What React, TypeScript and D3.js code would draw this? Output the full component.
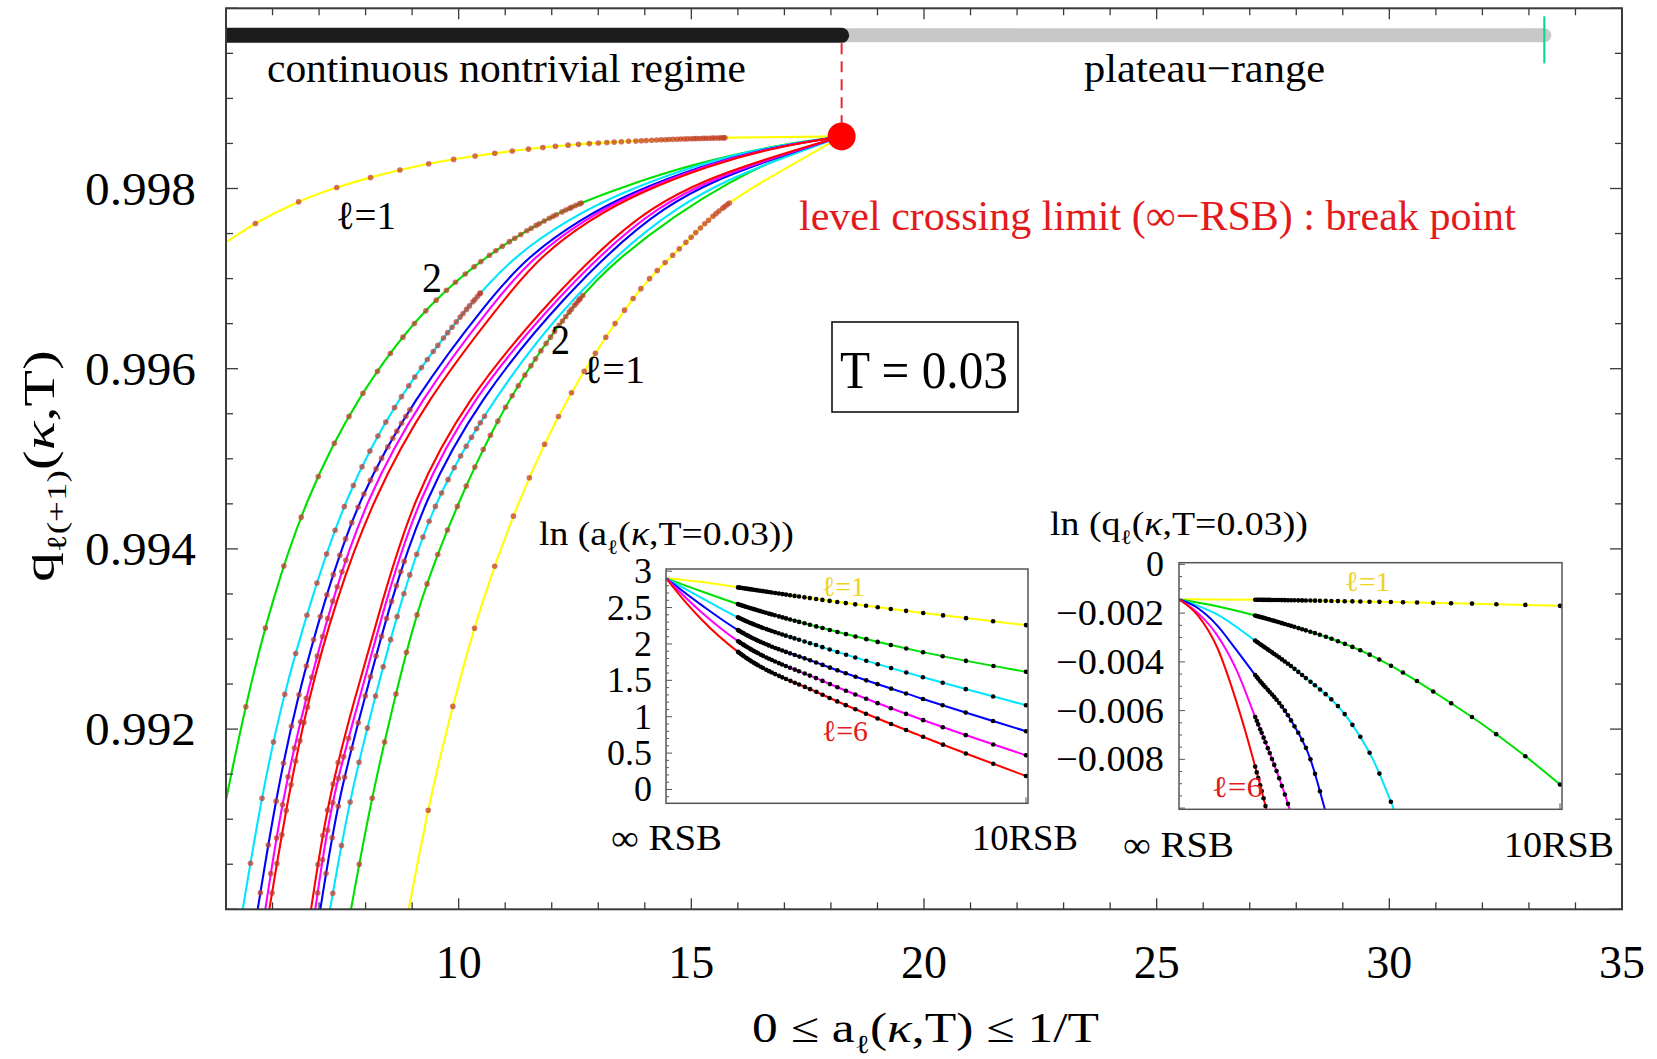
import React, { useEffect, useRef } from "react";
import * as d3 from "d3";

const W = 1657;
const H = 1059;
const SERIF = "'Liberation Serif','Times New Roman',Times,serif";

// ---------------- main panel ----------------
const A_DOMAIN: [number, number] = [5, 35];
const Q_DOMAIN: [number, number] = [0.99, 1.0];
const A_TICK_LABELS = [10, 15, 20, 25, 30, 35];
const Q_TICK_LABELS = [0.992, 0.994, 0.996, 0.998];

const BREAK_POINT: [number, number] = [18.23, 0.998578];
const INVERSE_T = 33.33;
const REGIME_BAR_Q = 0.9997;

const YELLOW = "#ffff00";
const GREEN = "#00e000";
const CYAN = "#00e6ff";
const BLUE = "#0000ff";
const MAGENTA = "#ff00ff";
const RED = "#ff0000";

// left (upper) family: [a, q]
const Q_YELLOW_A: [number, number][] = [[5.0, 0.997403], [5.632, 0.997622], [6.558, 0.997862], [7.396, 0.998018], [8.138, 0.998129], [8.74, 0.998207], [9.354, 0.998278], [10.35, 0.998362], [11.16, 0.998418], [12.42, 0.998492], [14.26, 0.99854], [15.72, 0.998567], [18.23, 0.998578]];
const Q_GREEN_A: [number, number][] = [[5.0, 0.991214], [5.443, 0.992326], [5.991, 0.993437], [6.711, 0.994548], [7.772, 0.995659], [9.367, 0.99677], [11.2, 0.99748], [12.58, 0.99784], [13.5, 0.99801], [14.65, 0.99821], [15.8, 0.99836], [16.95, 0.99849], [18.23, 0.998578]];
const Q_CYAN_A: [number, number][] = [[5.359, 0.99], [5.752, 0.991214], [6.204, 0.992326], [6.827, 0.993437], [7.542, 0.994548], [8.637, 0.995659], [10.31, 0.99677], [11.2, 0.997251], [12.35, 0.997659], [13.5, 0.997956], [15.03, 0.998251], [16.57, 0.998456], [18.23, 0.998578]];
const Q_BLUE_A: [number, number][] = [[5.681, 0.99], [6.064, 0.991214], [6.517, 0.992326], [7.119, 0.993437], [7.83, 0.994548], [9.025, 0.995659], [10.65, 0.99677], [11.5, 0.997251], [12.61, 0.997659], [13.71, 0.997956], [15.21, 0.998251], [16.68, 0.998456], [18.23, 0.998578]];
const Q_MAGENTA_A: [number, number][] = [[5.845, 0.99], [6.204, 0.991214], [6.708, 0.992326], [7.278, 0.993437], [8.009, 0.994548], [9.169, 0.995659], [10.8, 0.99677], [11.63, 0.997251], [12.71, 0.997659], [13.8, 0.997956], [15.27, 0.998251], [16.72, 0.998456], [18.23, 0.998578]];
const Q_RED_A: [number, number][] = [[5.931, 0.99], [6.322, 0.991214], [6.762, 0.992326], [7.364, 0.993437], [8.153, 0.994548], [9.309, 0.995659], [10.97, 0.99677], [11.76, 0.997251], [12.82, 0.997659], [13.89, 0.997956], [15.34, 0.998251], [16.76, 0.998456], [18.23, 0.998578]];

// right (lower) family: [a, q]
const Q_RED_B: [number, number][] = [[6.827, 0.99], [7.186, 0.991214], [7.757, 0.992326], [8.368, 0.993437], [9.013, 0.994548], [10.16, 0.995659], [11.96, 0.99677], [14.11, 0.997881], [16.56, 0.998326], [18.23, 0.998578]];
const Q_MAGENTA_B: [number, number][] = [[6.919, 0.99], [7.257, 0.991214], [7.865, 0.992326], [8.439, 0.993437], [9.12, 0.994548], [10.27, 0.995659], [12.07, 0.99677], [14.26, 0.997881], [16.65, 0.998326], [18.23, 0.998578]];
const Q_BLUE_B: [number, number][] = [[7.027, 0.99], [7.401, 0.991214], [7.972, 0.992326], [8.546, 0.993437], [9.262, 0.994548], [10.44, 0.995659], [12.19, 0.99677], [14.41, 0.997881], [16.71, 0.998326], [18.23, 0.998578]];
const Q_CYAN_B: [number, number][] = [[7.235, 0.99], [7.65, 0.991214], [8.187, 0.992326], [8.761, 0.993437], [9.477, 0.994548], [10.73, 0.995659], [12.35, 0.99677], [14.73, 0.997881], [16.88, 0.998326], [18.23, 0.998578]];
const Q_GREEN_B: [number, number][] = [[7.686, 0.99], [8.116, 0.991214], [8.617, 0.992326], [9.154, 0.993437], [10.01, 0.994548], [11.02, 0.995659], [12.58, 0.99681], [13.5, 0.997251], [14.65, 0.9977], [15.8, 0.99807], [16.95, 0.99836], [18.23, 0.998578]];
const Q_YELLOW_B: [number, number][] = [[8.927, 0.99], [9.373, 0.991214], [9.9, 0.992326], [10.5, 0.993437], [11.29, 0.994548], [12.27, 0.995659], [13.69, 0.99677], [14.27, 0.9971], [15.03, 0.99747], [15.72, 0.997844], [17.38, 0.998326], [18.23, 0.998578]];

// RSB-level markers on the main curves (q values, or a values for the flat curve)
const MARK_A_YELLOW_A = [5.632, 6.558, 7.375, 8.106, 8.74, 9.354, 9.891, 10.351, 10.773, 11.157, 11.503, 11.811, 12.079, 12.348, 12.578, 12.808, 12.999, 13.19, 13.345, 13.498, 13.652, 13.805, 13.919, 14.035, 14.151, 14.252, 14.349, 14.435, 14.521, 14.607, 14.693, 14.768, 14.843, 14.918, 14.994, 15.058, 15.122, 15.187, 15.251, 15.316, 15.38, 15.445, 15.509, 15.574, 15.638, 15.692, 15.724];
const MARK_Q_GREEN_A = [0.99225, 0.99312, 0.99381, 0.99435, 0.9948, 0.99517, 0.99547, 0.99573, 0.99597, 0.99617, 0.99635, 0.9965, 0.99664, 0.99676, 0.99687, 0.99696, 0.99705, 0.99713, 0.99719, 0.99726, 0.99731, 0.99736, 0.99741, 0.99745, 0.99749, 0.99753, 0.99756, 0.99759, 0.99761, 0.99764, 0.99767, 0.99769, 0.99771, 0.99774, 0.99776, 0.99778, 0.99779, 0.99781, 0.99783, 0.99784];
const MARK_Q_CYAN_A = [0.99051, 0.99123, 0.99186, 0.99239, 0.99284, 0.99326, 0.99362, 0.99394, 0.99421, 0.99447, 0.9947, 0.99491, 0.99509, 0.99525, 0.99541, 0.99557, 0.99569, 0.99581, 0.99591, 0.99601, 0.9961, 0.99619, 0.99626, 0.99634, 0.9964, 0.99646, 0.99652, 0.99657, 0.99661, 0.99666, 0.9967, 0.99674, 0.99677, 0.9968, 0.99683, 0.99684];
const MARK_Q_BLUE_A = [0.99018, 0.99071, 0.9912, 0.99162, 0.99203, 0.99238, 0.9927, 0.99299, 0.99325, 0.99349, 0.99371, 0.99393, 0.99411, 0.99429, 0.99446, 0.99461, 0.99476, 0.99489, 0.99501, 0.99513, 0.99523, 0.99531, 0.99539, 0.99547, 0.99554];
const MARK_Q_MAGENTA_A = [0.9904, 0.99079, 0.99116, 0.99147, 0.99179, 0.99208, 0.99234, 0.99258, 0.99281, 0.99303, 0.99323, 0.99342, 0.99358, 0.99375, 0.99387];
const MARK_Q_RED_A = [0.99018, 0.99051, 0.99083, 0.9911, 0.99138, 0.99164, 0.99187, 0.99207, 0.99224];
const MARK_Q_RED_B = [0.9905, 0.99082, 0.9911, 0.99139, 0.99163];
const MARK_Q_MAGENTA_B = [0.99018, 0.99055, 0.99088, 0.99118, 0.99145, 0.99169, 0.9919];
const MARK_Q_BLUE_B = [0.9904, 0.99079, 0.99114, 0.99147, 0.99179, 0.99207, 0.99237, 0.99258, 0.99281, 0.99303, 0.99323, 0.99342, 0.99359, 0.99375, 0.99386];
const MARK_Q_CYAN_B = [0.99018, 0.99071, 0.99119, 0.99163, 0.99201, 0.99237, 0.99269, 0.99299, 0.99325, 0.9935, 0.99371, 0.99394, 0.99413, 0.99431, 0.99447, 0.99462, 0.99477, 0.9949, 0.99503, 0.99514, 0.99524, 0.99533, 0.9954, 0.99547];
const MARK_Q_GREEN_B = [0.9905, 0.99123, 0.99186, 0.99239, 0.99285, 0.99327, 0.99361, 0.99394, 0.99421, 0.99447, 0.9947, 0.99491, 0.9951, 0.99526, 0.99542, 0.99557, 0.9957, 0.99581, 0.99593, 0.99603, 0.99611, 0.9962, 0.99628, 0.99635, 0.99641, 0.99648, 0.99653, 0.99658, 0.99663, 0.99666, 0.9967, 0.99673, 0.99676, 0.99678, 0.99681];
const MARK_Q_YELLOW_B = [0.9911, 0.99225, 0.99312, 0.99381, 0.99436, 0.99479, 0.99516, 0.99547, 0.99573, 0.99597, 0.99617, 0.99635, 0.9965, 0.99665, 0.99678, 0.99689, 0.997, 0.99709, 0.99718, 0.99726, 0.99733, 0.9974, 0.99746, 0.99751, 0.99756, 0.99761, 0.99765, 0.99769, 0.99772, 0.99775, 0.99778, 0.9978, 0.99782, 0.99784];

// ---------------- insets ----------------
// horizontal position of K-RSB levels: K = 10 ... 50  (10RSB at 1, infinite RSB at 0)
const RSB_LEVEL_POS = [1.0, 0.909, 0.833, 0.769, 0.714, 0.667, 0.625, 0.588, 0.556, 0.526, 0.5, 0.476, 0.455, 0.435, 0.417, 0.4, 0.385, 0.37, 0.357, 0.345, 0.333, 0.323, 0.313, 0.303, 0.294, 0.286, 0.278, 0.27, 0.263, 0.256, 0.25, 0.244, 0.238, 0.233, 0.227, 0.222, 0.217, 0.213, 0.208, 0.204, 0.2];

const LN_A_TICKS = [0, 0.5, 1, 1.5, 2, 2.5, 3];
const LN_A_YELLOW: [number, number][] = [[0, 2.903], [0.1, 2.85], [0.2, 2.777], [0.432, 2.607], [0.71, 2.428], [1, 2.259]];
const LN_A_GREEN: [number, number][] = [[0, 2.903], [0.1, 2.72], [0.2, 2.547], [0.432, 2.222], [0.71, 1.891], [1, 1.617]];
const LN_A_CYAN: [number, number][] = [[0, 2.903], [0.1, 2.63], [0.2, 2.365], [0.432, 1.96], [0.71, 1.548], [1, 1.158]];
const LN_A_BLUE: [number, number][] = [[0, 2.903], [0.1, 2.53], [0.2, 2.19], [0.432, 1.718], [0.71, 1.25], [1, 0.801]];
const LN_A_MAGENTA: [number, number][] = [[0, 2.903], [0.1, 2.43], [0.2, 2.039], [0.432, 1.498], [0.71, 0.961], [1, 0.47]];
const LN_A_RED: [number, number][] = [[0, 2.903], [0.05, 2.6], [0.1, 2.33], [0.2, 1.891], [0.432, 1.309], [0.71, 0.732], [1, 0.186]];

const LN_Q_TICKS = [0, -0.002, -0.004, -0.006, -0.008];
const LN_Q_YELLOW: [number, number][] = [[0, -0.00143], [0.2, -0.00145], [0.5, -0.00153], [0.8, -0.00162], [1, -0.0017]];
const LN_Q_GREEN: [number, number][] = [[0, -0.00143], [0.1, -0.00172], [0.2, -0.0021], [0.3, -0.00255], [0.4, -0.00305], [0.5, -0.0037], [0.6, -0.00455], [0.7, -0.00555], [0.8, -0.0066], [0.9, -0.00776], [1, -0.00903]];
const LN_Q_CYAN: [number, number][] = [[0, -0.00143], [0.05, -0.0017], [0.1, -0.00205], [0.2, -0.00313], [0.32, -0.0045], [0.447, -0.0064], [0.509, -0.008], [0.564, -0.01005], [0.6, -0.0115]];
const LN_Q_BLUE: [number, number][] = [[0, -0.00143], [0.05, -0.0018], [0.1, -0.0025], [0.15, -0.0035], [0.2, -0.00454], [0.294, -0.0064], [0.345, -0.008], [0.383, -0.01005], [0.4, -0.011]];
const LN_Q_MAGENTA: [number, number][] = [[0, -0.00143], [0.05, -0.002], [0.1, -0.0029], [0.15, -0.0043], [0.2, -0.00626], [0.242, -0.0079], [0.268, -0.009], [0.29, -0.01005], [0.31, -0.0114]];
const LN_Q_RED: [number, number][] = [[0, -0.00143], [0.05, -0.0021], [0.1, -0.0034], [0.15, -0.0056], [0.2, -0.0083], [0.229, -0.01005], [0.24, -0.0108]];

type Part = { t: string; sub?: boolean; it?: boolean };
type Sel = d3.Selection<any, any, any, any>;

function addText(parent: Sel, parts: Part[] | string, o: { x: number; y: number; size: number; width?: number; anchor?: string; fill?: string; rotate?: number }) {
  const g = parent.append("g");
  const text = g.append("text")
    .attr("font-family", SERIF)
    .attr("font-size", o.size)
    .attr("fill", o.fill || "#000")
    .attr("text-anchor", o.anchor || "start");
  const arr: Part[] = typeof parts === "string" ? [{ t: parts }] : parts;
  let shift = 0;
  arr.forEach((p) => {
    const ts = text.append("tspan").text(p.t);
    const target = p.sub ? o.size * 0.27 : 0;
    if (target - shift !== 0) ts.attr("dy", target - shift);
    shift = target;
    if (p.sub) ts.attr("font-size", o.size * 0.62);
    if (p.it) ts.attr("font-style", "italic");
  });
  let sx = 1;
  if (o.width) {
    const w = (text.node() as SVGTextElement).getBBox().width;
    if (w > 0) sx = o.width / w;
  }
  g.attr("transform", `translate(${o.x},${o.y}) rotate(${o.rotate || 0}) scale(${sx},1)`);
}

function samplePath(node: SVGPathElement, n = 900): [number, number][] {
  const L = node.getTotalLength();
  const out: [number, number][] = [];
  for (let i = 0; i <= n; i++) {
    const p = node.getPointAtLength((L * i) / n);
    out.push([p.x, p.y]);
  }
  return out;
}
function nearest(pts: [number, number][], target: number, idx: 0 | 1): [number, number] {
  let best = pts[0];
  let bd = Infinity;
  for (const p of pts) {
    const d = Math.abs(p[idx] - target);
    if (d < bd) { bd = d; best = p; }
  }
  return best;
}

function draw(el: SVGSVGElement) {
  const svg = d3.select(el);
  svg.selectAll("*").remove();
  svg.append("rect").attr("width", W).attr("height", H).attr("fill", "#fff");

  const L = 226, R = 1622, T = 8.3, B = 909.3;
  const x = d3.scaleLinear().domain(A_DOMAIN).range([L, R]);
  const y = d3.scaleLinear().domain(Q_DOMAIN).range([B, T]);

  const defs = svg.append("defs");
  defs.append("clipPath").attr("id", "clipMain").append("rect").attr("x", L).attr("y", T).attr("width", R - L).attr("height", B - T);

  // frame & ticks
  const axes = svg.append("g").attr("stroke", "#3a3a3a").attr("fill", "none");
  x.ticks(30).forEach((v) => {
    const len = v % 5 === 0 ? 11 : 7;
    axes.append("line").attr("x1", x(v)).attr("x2", x(v)).attr("y1", B).attr("y2", B - len).attr("stroke-width", 1.3);
    axes.append("line").attr("x1", x(v)).attr("x2", x(v)).attr("y1", T).attr("y2", T + len).attr("stroke-width", 1.3);
  });
  y.ticks(20).forEach((v) => {
    const major = Math.abs(v / 0.002 - Math.round(v / 0.002)) < 1e-6;
    const len = major ? 12 : 7;
    axes.append("line").attr("x1", L).attr("x2", L + len).attr("y1", y(v)).attr("y2", y(v)).attr("stroke-width", 1.3);
    axes.append("line").attr("x1", R).attr("x2", R - len).attr("y1", y(v)).attr("y2", y(v)).attr("stroke-width", 1.3);
  });

  // regime bars
  const clipped = svg.append("g").attr("clip-path", "url(#clipMain)");
  const yb = y(REGIME_BAR_Q);
  clipped.append("line").attr("x1", x(BREAK_POINT[0])).attr("x2", x(INVERSE_T)).attr("y1", yb).attr("y2", yb)
    .attr("stroke", "#c8c8c8").attr("stroke-width", 14).attr("stroke-linecap", "round");
  clipped.append("line").attr("x1", x(A_DOMAIN[0]) - 10).attr("x2", x(BREAK_POINT[0])).attr("y1", yb).attr("y2", yb)
    .attr("stroke", "#1c1c1c").attr("stroke-width", 15).attr("stroke-linecap", "round");
  svg.append("line").attr("x1", x(INVERSE_T)).attr("x2", x(INVERSE_T)).attr("y1", yb - 19).attr("y2", yb + 28)
    .attr("stroke", "#00d890").attr("stroke-width", 2);
  svg.append("line").attr("x1", x(BREAK_POINT[0])).attr("x2", x(BREAK_POINT[0])).attr("y1", yb + 8).attr("y2", y(BREAK_POINT[1]) - 13)
    .attr("stroke", "#e02a34").attr("stroke-width", 2).attr("stroke-dasharray", "11 7");

  // curves
  const line = d3.line<[number, number]>().x((d) => x(d[0])).y((d) => y(d[1])).curve(d3.curveBasis);
  const series: { pts: [number, number][]; color: string; byQ?: number[]; byA?: number[] }[] = [
    { pts: Q_YELLOW_B, color: YELLOW, byQ: MARK_Q_YELLOW_B },
    { pts: Q_YELLOW_A, color: YELLOW, byA: MARK_A_YELLOW_A },
    { pts: Q_GREEN_B, color: GREEN, byQ: MARK_Q_GREEN_B },
    { pts: Q_GREEN_A, color: GREEN, byQ: MARK_Q_GREEN_A },
    { pts: Q_CYAN_B, color: CYAN, byQ: MARK_Q_CYAN_B },
    { pts: Q_CYAN_A, color: CYAN, byQ: MARK_Q_CYAN_A },
    { pts: Q_BLUE_B, color: BLUE, byQ: MARK_Q_BLUE_B },
    { pts: Q_BLUE_A, color: BLUE, byQ: MARK_Q_BLUE_A },
    { pts: Q_MAGENTA_B, color: MAGENTA, byQ: MARK_Q_MAGENTA_B },
    { pts: Q_MAGENTA_A, color: MAGENTA, byQ: MARK_Q_MAGENTA_A },
    { pts: Q_RED_B, color: RED, byQ: MARK_Q_RED_B },
    { pts: Q_RED_A, color: RED, byQ: MARK_Q_RED_A },
  ];
  const paths: SVGPathElement[] = [];
  series.forEach((s) => {
    const p = clipped.append("path").attr("d", line(s.pts) as string).attr("fill", "none")
      .attr("stroke", s.color).attr("stroke-width", 2.1);
    paths.push(p.node() as SVGPathElement);
  });
  series.forEach((s, i) => {
    const pts = samplePath(paths[i], 1400);
    const marks: [number, number][] = [];
    (s.byQ || []).forEach((q) => marks.push(nearest(pts, y(q), 1)));
    (s.byA || []).forEach((a) => marks.push(nearest(pts, x(a), 0)));
    clipped.selectAll(null).data(marks).enter().append("circle")
      .attr("cx", (d) => d[0]).attr("cy", (d) => d[1]).attr("r", 2.8)
      .attr("fill", "#c0392b").attr("fill-opacity", 0.72);
  });

  svg.append("circle").attr("cx", x(BREAK_POINT[0])).attr("cy", y(BREAK_POINT[1])).attr("r", 14).attr("fill", "#ff0000");

  axes.raise();
  svg.append("rect").attr("x", L).attr("y", T).attr("width", R - L).attr("height", B - T)
    .attr("fill", "none").attr("stroke", "#3a3a3a").attr("stroke-width", 2);

  // tick labels
  Q_TICK_LABELS.forEach((v) => addText(svg, v.toFixed(3), { x: 196, y: y(v) + 16, size: 46, width: 111, anchor: "end" }));
  A_TICK_LABELS.forEach((v) => addText(svg, String(v), { x: x(v), y: 978, size: 47, width: 46, anchor: "middle" }));

  // axis titles
  addText(svg, [{ t: "0 ≤ a" }, { t: "ℓ", sub: true }, { t: "(" }, { t: "κ", it: true }, { t: ",T) ≤ 1/T" }],
    { x: 752, y: 1042, size: 42, width: 347 });
  addText(svg, [{ t: "q" }, { t: "ℓ(+1)", sub: true }, { t: "(" }, { t: "κ", it: true }, { t: ",T)" }],
    { x: 54, y: 466, size: 44, width: 232, anchor: "middle", rotate: -90 });

  // annotations
  addText(svg, "continuous nontrivial regime", { x: 267, y: 82, size: 41, width: 479 });
  addText(svg, "plateau\u2212range", { x: 1084, y: 82, size: 41, width: 241 });
  addText(svg, "level crossing limit (\u221E\u2212RSB) : break point", { x: 799, y: 230, size: 43, width: 717, fill: "#e31a1c" });
  addText(svg, "ℓ=1", { x: 336, y: 229, size: 40, width: 60 });
  addText(svg, "2", { x: 422, y: 292, size: 43, width: 20 });
  addText(svg, "2", { x: 551, y: 354, size: 43, width: 19 });
  addText(svg, "ℓ=1", { x: 583, y: 383, size: 40, width: 62 });

  svg.append("rect").attr("x", 832).attr("y", 322).attr("width", 186).attr("height", 90)
    .attr("fill", "#fff").attr("stroke", "#111").attr("stroke-width", 1.6);
  addText(svg, "T = 0.03", { x: 840, y: 388, size: 52, width: 168 });

  // ---------- left inset ----------
  {
    const l = 666, r = 1028, t = 569, b = 803.3;
    const xi = d3.scaleLinear().domain([0, 1]).range([l, 1026]);
    const yi = d3.scaleLinear().domain([-0.19, 3.03]).range([b, t]);
    defs.append("clipPath").attr("id", "clipL").append("rect").attr("x", l).attr("y", t).attr("width", r - l).attr("height", b - t);
    svg.append("rect").attr("x", l).attr("y", t).attr("width", r - l).attr("height", b - t).attr("fill", "#fff");
    const g = svg.append("g").attr("clip-path", "url(#clipL)");
    const li = d3.line<[number, number]>().x((d) => xi(d[0])).y((d) => yi(d[1])).curve(d3.curveMonotoneX);
    const curves: [[number, number][], string][] = [[LN_A_YELLOW, YELLOW], [LN_A_GREEN, GREEN], [LN_A_CYAN, CYAN], [LN_A_BLUE, BLUE], [LN_A_MAGENTA, MAGENTA], [LN_A_RED, RED]];
    curves.forEach(([pts, c]) => {
      const p = g.append("path").attr("d", li(pts) as string).attr("fill", "none").attr("stroke", c).attr("stroke-width", 2);
      const sp = samplePath(p.node() as SVGPathElement, 800);
      const dots = RSB_LEVEL_POS.map((k) => nearest(sp, xi(k), 0));
      g.selectAll(null).data(dots).enter().append("circle").attr("cx", (d) => d[0]).attr("cy", (d) => d[1]).attr("r", 2.3).attr("fill", "#000");
    });
    const ax = svg.append("g").attr("stroke", "#555");
    yi.ticks(30).forEach((v) => {
      const major = Math.abs(v * 2 - Math.round(v * 2)) < 1e-6;
      ax.append("line").attr("x1", l).attr("x2", l + (major ? 6 : 3)).attr("y1", yi(v)).attr("y2", yi(v)).attr("stroke-width", 1);
    });
    ax.append("line").attr("x1", xi(1)).attr("x2", xi(1)).attr("y1", b).attr("y2", b - 6).attr("stroke-width", 1);
    svg.append("rect").attr("x", l).attr("y", t).attr("width", r - l).attr("height", b - t).attr("fill", "none").attr("stroke", "#555").attr("stroke-width", 1.5);
    LN_A_TICKS.forEach((v) => addText(svg, String(v), { x: 652, y: yi(v) + 12, size: 36, anchor: "end" }));
    addText(svg, [{ t: "ln (a" }, { t: "ℓ", sub: true }, { t: "(" }, { t: "κ", it: true }, { t: ",T=0.03))" }], { x: 539, y: 545, size: 33, width: 255 });
    addText(svg, "\u221E RSB", { x: 611, y: 850, size: 36, width: 111 });
    addText(svg, "10RSB", { x: 972, y: 850, size: 36, width: 106 });
    addText(svg, "ℓ=1", { x: 822, y: 596, size: 28, width: 43, fill: "#efd21c" });
    addText(svg, "ℓ=6", { x: 822, y: 741, size: 30, width: 46, fill: "#e31a1c" });
  }

  // ---------- right inset ----------
  {
    const l = 1179, r = 1562, t = 562.7, b = 809.3;
    const xr = d3.scaleLinear().domain([0, 1]).range([l, 1560]);
    const yr = d3.scaleLinear().domain([-0.01005, 0.00007]).range([b, t]);
    defs.append("clipPath").attr("id", "clipR").append("rect").attr("x", l).attr("y", t).attr("width", r - l).attr("height", b - t);
    svg.append("rect").attr("x", l).attr("y", t).attr("width", r - l).attr("height", b - t).attr("fill", "#fff");
    const g = svg.append("g").attr("clip-path", "url(#clipR)");
    const li = d3.line<[number, number]>().x((d) => xr(d[0])).y((d) => yr(d[1])).curve(d3.curveMonotoneX);
    const curves: [[number, number][], string][] = [[LN_Q_YELLOW, YELLOW], [LN_Q_GREEN, GREEN], [LN_Q_CYAN, CYAN], [LN_Q_BLUE, BLUE], [LN_Q_MAGENTA, MAGENTA], [LN_Q_RED, RED]];
    curves.forEach(([pts, c]) => {
      const p = g.append("path").attr("d", li(pts) as string).attr("fill", "none").attr("stroke", c).attr("stroke-width", 2);
      const sp = samplePath(p.node() as SVGPathElement, 1000);
      const dots = RSB_LEVEL_POS.map((k) => nearest(sp, xr(k), 0));
      g.selectAll(null).data(dots).enter().append("circle").attr("cx", (d) => d[0]).attr("cy", (d) => d[1]).attr("r", 2.3).attr("fill", "#000");
    });
    const ax = svg.append("g").attr("stroke", "#555");
    yr.ticks(20).forEach((v) => {
      const major = Math.abs(v / 0.002 - Math.round(v / 0.002)) < 1e-6;
      ax.append("line").attr("x1", l).attr("x2", l + (major ? 6 : 3)).attr("y1", yr(v)).attr("y2", yr(v)).attr("stroke-width", 1);
    });
    ax.append("line").attr("x1", xr(1)).attr("x2", xr(1)).attr("y1", b).attr("y2", b - 6).attr("stroke-width", 1);
    svg.append("rect").attr("x", l).attr("y", t).attr("width", r - l).attr("height", b - t).attr("fill", "none").attr("stroke", "#555").attr("stroke-width", 1.5);
    LN_Q_TICKS.forEach((v) => addText(svg, v === 0 ? "0" : "\u2212" + Math.abs(v).toFixed(3), { x: 1164, y: yr(v) + 12, size: 36, width: v === 0 ? undefined : 108, anchor: "end" }));
    addText(svg, [{ t: "ln (q" }, { t: "ℓ", sub: true }, { t: "(" }, { t: "κ", it: true }, { t: ",T=0.03))" }], { x: 1050, y: 535, size: 33, width: 258 });
    addText(svg, "\u221E RSB", { x: 1123, y: 857, size: 36, width: 111 });
    addText(svg, "10RSB", { x: 1504, y: 857, size: 36, width: 110 });
    addText(svg, "ℓ=1", { x: 1345, y: 591, size: 28, width: 45, fill: "#efd21c" });
    addText(svg, "ℓ=6", { x: 1212, y: 797, size: 30, width: 51, fill: "#e31a1c" });
  }
}

export default function App() {
  const ref = useRef<SVGSVGElement>(null);
  useEffect(() => {
    if (ref.current) draw(ref.current);
  }, []);
  return (
    <svg
      ref={ref}
      width={W}
      height={H}
      viewBox={`0 0 ${W} ${H}`}
      style={{ position: "absolute", left: 0, top: 0, display: "block", background: "#fff" }}
    />
  );
}
